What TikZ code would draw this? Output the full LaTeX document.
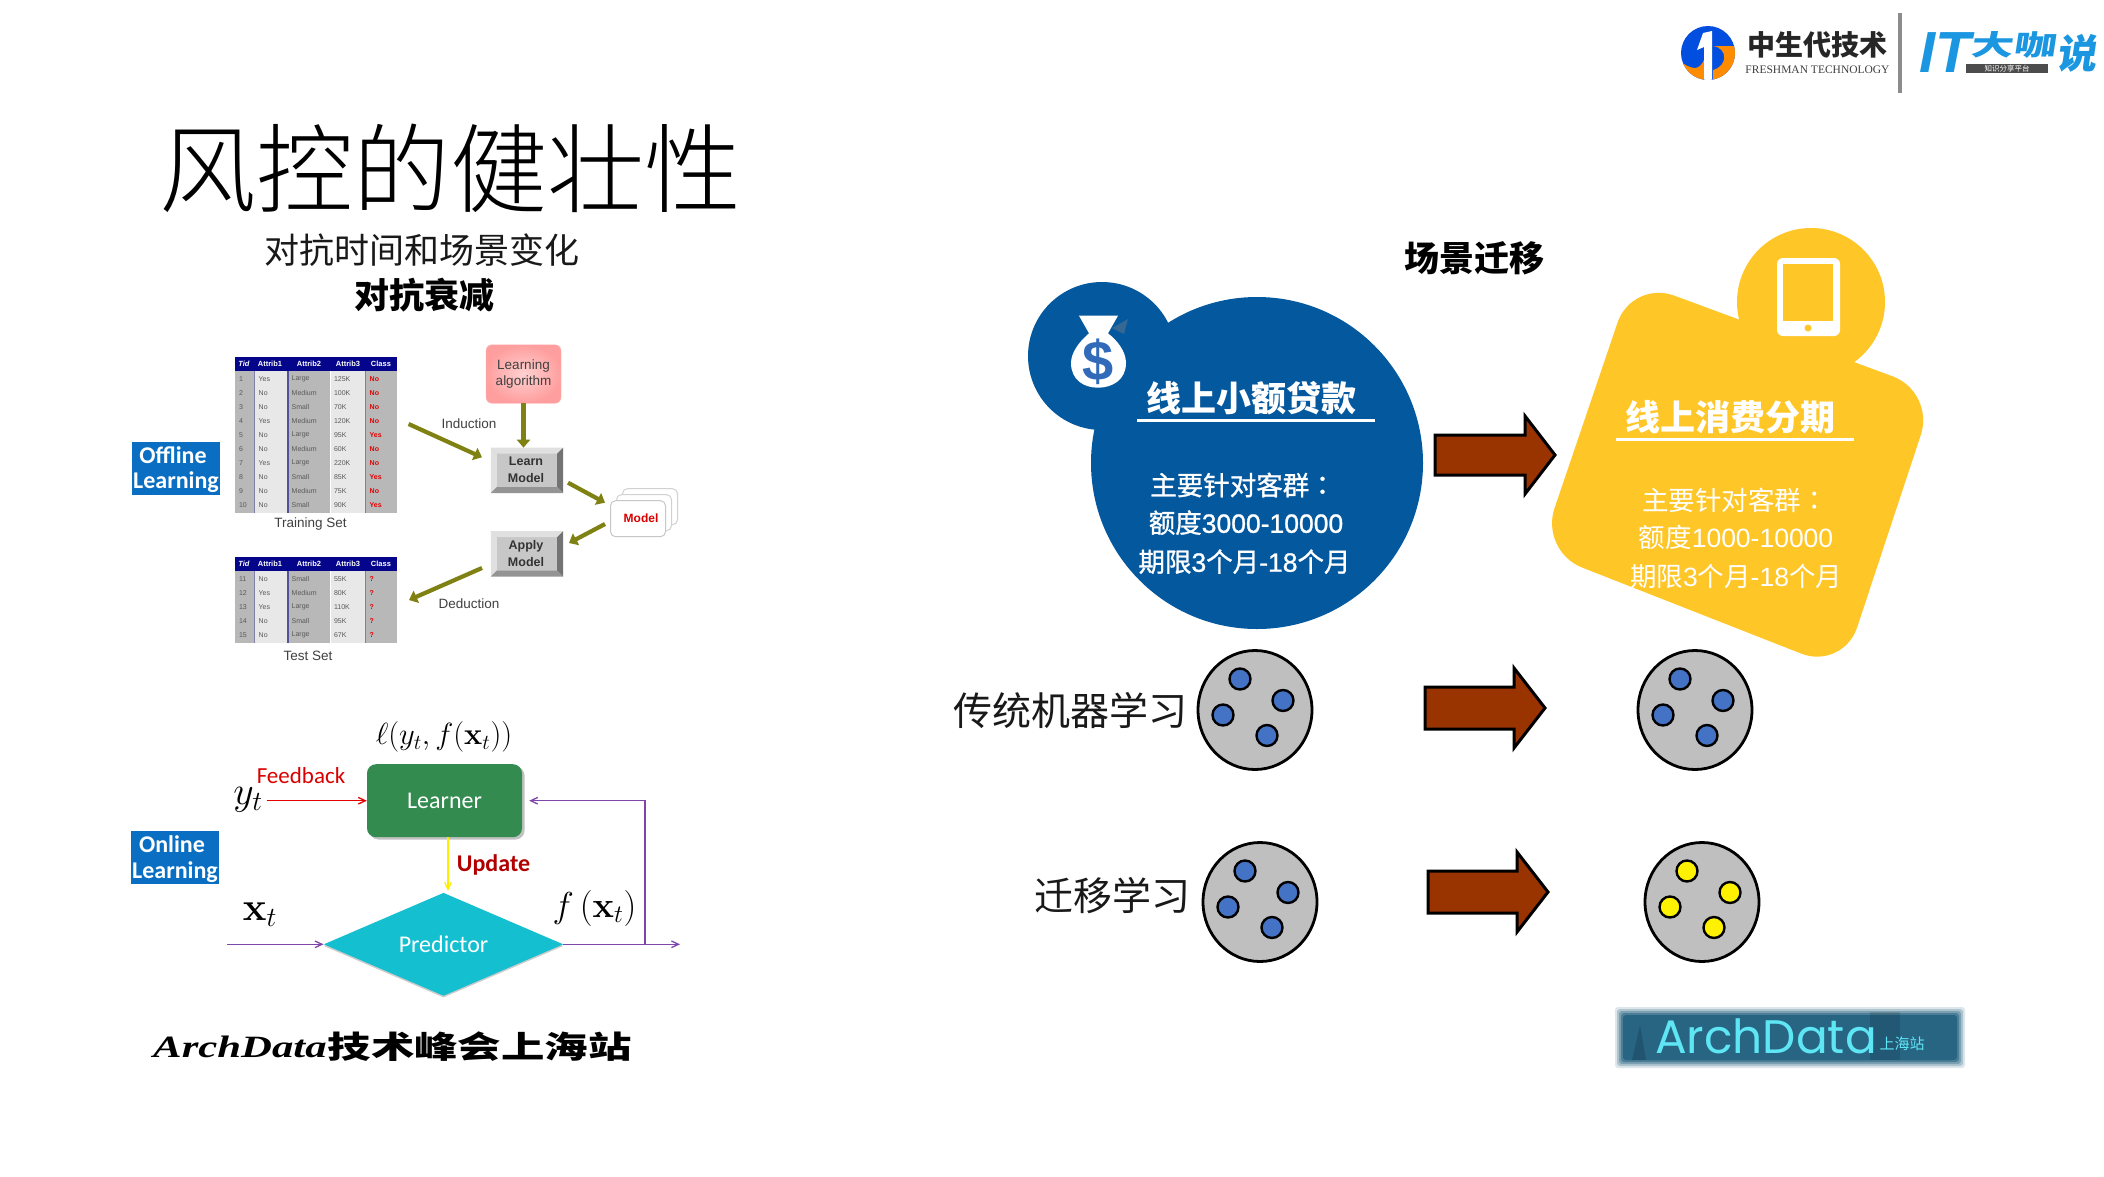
\documentclass[tikz,border=0pt]{standalone}
\usepackage[no-math]{fontspec}
\usepackage{graphicx}
\usetikzlibrary{arrows.meta,shapes.geometric,calc}
\setmainfont{Liberation Sans}
\newfontfamily\cjk{Noto Sans CJK SC}
\newfontfamily\cjkl{Noto Sans CJK SC Light}
\newfontfamily\cjktc{Noto Sans CJK TC}
\newfontfamily\cjkf{Noto Sans CJK SC}[FakeBold=1]
\newfontfamily\cjktf{Noto Sans CJK TC}[FakeBold=1]
\newfontfamily\latf{Liberation Sans}[FakeBold=1]
\newfontfamily\calb{Carlito}
\newfontfamily\rmn{Liberation Serif}
\newfontfamily\tec{Poppins}
\newcommand\sz[1]{\fontsize{#1}{#1}\selectfont}
\definecolor{bluebg}{HTML}{04589E}
\definecolor{yelbg}{HTML}{FFC627}
\definecolor{brownarr}{HTML}{993300}
\definecolor{oliv}{HTML}{7F8212}
\definecolor{offblue}{HTML}{0A6FC2}
\definecolor{purp}{HTML}{7030A0}
\definecolor{itblue}{HTML}{1B96E0}
\definecolor{dotblue}{HTML}{4472C4}
\definecolor{HeadNavy}{HTML}{05058C}
\definecolor{learnerc}{HTML}{338B4F}
\definecolor{predc}{HTML}{14BFD0}
\definecolor{bannerc}{HTML}{1E5F7E}
\definecolor{bannert}{HTML}{5FE6F5}
\tikzset{
 txt/.style={inner sep=0,outer sep=0},
 olivearr/.style={draw=oliv,line width=4.2pt,-{Triangle[width=13pt,length=8pt]}},
 thinarr/.style={line width=1.3pt,-{Straight Barb[length=7pt,width=11pt,angle'=50]}},
 bigarrow/.style={draw=black,fill=brownarr,line width=3pt,miter limit=8},
 bevel/.style={fill=black!22,minimum width=72pt,minimum height=45pt,inner sep=0},
 headc/.style={txt,text=white,font=\sz{7.5}\bfseries},
 cellc/.style={txt,text=black!65,font=\sz{7}},
 tag/.style={fill=offblue,minimum width=88pt,minimum height=53pt,inner sep=0},
 tagt/.style={txt,text=white,font=\calb\sz{24}\bfseries},
 cardtxt/.style={txt,text=white,font=\sz{26.5}},
 ball/.style={ellipse,draw=black,line width=2.8pt,fill=black!25,minimum width=114pt,minimum height=119pt,inner sep=0},
 grain/.style={circle,draw=black,line width=2.4pt,minimum size=21pt,inner sep=0},
 stackc/.style={draw=black!18,fill=white,rounded corners=5pt,line width=1pt,minimum width=55pt,minimum height=36pt},
}
\newcommand\bevelbox[1]{%
 \fill[black!12] (#1.north west)--(#1.north east)--($(#1.north east)+(-6,6)$)--($(#1.north west)+(6,6)$)--cycle;
 \fill[black!12] (#1.north west)--(#1.south west)--($(#1.south west)+(6,-6)$)--($(#1.north west)+(6,6)$)--cycle;
 \fill[black!55] (#1.north east)--(#1.south east)--($(#1.south east)+(-6,-6)$)--($(#1.north east)+(-6,6)$)--cycle;
 \fill[black!42] (#1.south west)--(#1.south east)--($(#1.south east)+(-6,-6)$)--($(#1.south west)+(6,-6)$)--cycle;
}
\newcommand\datatable[4]{% prefix, top y, bottom y, rows
 \fill[black!28] (235,#2) rectangle (397,#3);
 \fill[black!9] (255,#2) rectangle (287,#3);
 \fill[black!9] (331,#2) rectangle (365,#3);
 \fill[blue!50!black,opacity=.55] (287,#2) rectangle (289,#3);
 \fill[blue!50!black,opacity=.3] (254,#2) rectangle (255,#3);
 \fill[blue!50!black,opacity=.3] (365,#2) rectangle (366,#3);
 \fill[white] (329.5,#2) rectangle (331,#3);
 \fill[HeadNavy] (235,#2) rectangle (397,#2+14);
 \node[headc,font=\sz{7.5}\bfseries\itshape] (#1-h1) at (244,#2+7) {Tid};
 \node[headc] (#1-h2) at (270,#2+7) {Attrib1};
 \node[headc] (#1-h3) at (309,#2+7) {Attrib2};
 \node[headc] (#1-h4) at (348,#2+7) {Attrib3};
 \node[headc] (#1-h5) at (381,#2+7) {Class};
 \foreach \t/\a/\b/\c/\d [count=\r] in {#4}{
  \node[cellc,anchor=west] (#1-\r-t) at (239,#2+7.6+\r*14.03) {\t};
  \node[cellc,anchor=west] (#1-\r-a) at (258.7,#2+7.6+\r*14.03) {\a};
  \node[cellc,anchor=west] (#1-\r-b) at (291.7,#2+7.6+\r*14.03) {\b};
  \node[cellc,anchor=west] (#1-\r-c) at (334,#2+7.6+\r*14.03) {\c};
  \node[cellc,anchor=west,text=red!90!black,font=\sz{7}\bfseries] (#1-\r-d) at (369.7,#2+7.6+\r*14.03) {\d};
 }
}
\newcommand\grains[4]{% prefix, cx, cy, colour
 \node[grain,fill=#4] (#1a) at (#2-15,#3-31) {};
 \node[grain,fill=#4] (#1b) at (#2+28,#3-9.5) {};
 \node[grain,fill=#4] (#1c) at (#2-32,#3+5) {};
 \node[grain,fill=#4] (#1d) at (#2+12,#3+25.5) {};
}
\begin{document}
\begin{tikzpicture}[x=1pt,y=-1pt]
\useasboundingbox (0,0) rectangle (2104,1176);
\fill[white] (0,0) rectangle (2104,1176);
% ---- logo
\fill[HeadNavy!40!blue!70!cyan] (1708,53) circle (27);
\begin{scope}
 \clip (1708,53) circle (27);
 \fill[orange!90!yellow] (1681,62) .. controls (1695,72) and (1700,68) .. (1704,60) -- (1704,82) -- (1680,82) -- cycle;
 \fill[orange!90!yellow] (1713,46) .. controls (1728,48) and (1728,66) .. (1713,70) -- (1713,82) -- (1736,82) -- (1736,46) -- cycle;
 \fill[white] (1703,33) -- (1712,31) -- (1712,82) -- (1704,82) -- (1704,47) -- (1697,50) -- cycle;
\end{scope}
\node[txt,font=\cjk\sz{28}\bfseries,text=black!85] (lgname) at (1817.5,45) {中生代技术};
\node[txt,font=\rmn\sz{11.5},text=black!75] (lgeng) at (1817.5,70) {FRESHMAN TECHNOLOGY};
\draw[black!45,line width=3.5pt] (1900,13) -- (1900,93);
\node[txt,font=\sz{58}\bfseries\itshape,text=itblue] (lgit) at (1945,53) {IT};
\node[txt,font=\cjk\sz{36}\bfseries,text=itblue,xslant=0.15,transform shape] (lgda) at (2015,44.5) {\scalebox{1.18}[.78]{大咖}};
\node[txt,font=\cjk\sz{40}\bfseries,text=itblue,xslant=0.15,transform shape] (lgsh) at (2079,53) {说};
\node[fill=black!70,minimum width=82pt,minimum height=9pt,inner sep=0,text=white,font=\cjk\sz{7.5}] (lgtag) at (2007,68.5) {知识分享平台};
% ---- titles
\node[txt,font=\cjkl\sz{97},text=black] (title) at (450,168) {风控的健壮性};
\node[txt,font=\cjk\sz{35},text=black!90] (sub1) at (422,250) {对抗时间和场景变化};
\node[txt,font=\cjk\sz{35}\bfseries] (sub2) at (424,295) {对抗衰减};
% ---- offline
\node[tag] (offtag) at (176,468) {};
\node[tagt] (offt1) at (173,455) {Offline};
\node[tagt] (offt2) at (176,482) {Learning};
\datatable{tr}{357}{513}{1/Yes/Large/125K/No,2/No/Medium/100K/No,3/No/Small/70K/No,4/Yes/Medium/120K/No,5/No/Large/95K/Yes,6/No/Medium/60K/No,7/Yes/Large/220K/No,8/No/Small/85K/Yes,9/No/Medium/75K/No,10/No/Small/90K/Yes}
\datatable{te}{557}{643}{11/No/Small/55K/?,12/Yes/Medium/80K/?,13/Yes/Large/110K/?,14/No/Small/95K/?,15/No/Large/67K/?}
\node[txt,font=\sz{13.5},text=black!75] (trainlab) at (310.5,524) {Training Set};
\node[txt,font=\sz{13.5},text=black!75] (testlab) at (308,656) {Test Set};
\node[draw=red!30,inner color=red!18,outer color=red!38,rounded corners=6pt,minimum width=75pt,minimum height=58.5pt,inner sep=0,align=center,font=\sz{13.5},text=black!75] (alg) at (523.5,374) {Learning\\[3pt]algorithm};
\node[bevel] (learn) at (527,470.4) {};
\bevelbox{learn}
\node[txt,font=\sz{12.5}\bfseries,text=black!80,align=center] (learnt) at (526,470) {Learn\\[4.5pt]Model};
\node[bevel] (apply) at (527,553.8) {};
\bevelbox{apply}
\node[txt,font=\sz{12.5}\bfseries,text=black!80,align=center] (applyt) at (526,553.5) {Apply\\[4.5pt]Model};
\node[stackc] (m3) at (650,506.7) {};
\node[stackc] (m2) at (644,512.7) {};
\node[stackc,draw=black!22,font=\sz{12}\bfseries,text=red!85!black] (model) at (638,518.7) {\hspace*{6pt}Model};
\coordinate (i1) at (408.6,424);
\coordinate (i2) at (482,457.3);
\draw[olivearr] (i1) -- (i2);
\draw[olivearr] (alg.south) -- (learn.north -| alg.south);
\coordinate (m1a) at (568,482.7);
\coordinate (m1b) at (605,502.7);
\draw[olivearr] (m1a) -- (m1b);
\coordinate (m2a) at (605,524);
\coordinate (m2b) at (569,543);
\draw[olivearr] (m2a) -- (m2b);
\coordinate (d1) at (482,568);
\coordinate (d2) at (409,600);
\draw[olivearr] (d1) -- (d2);
\node[txt,font=\sz{13.5},text=black!75] (indlab) at (469,423.3) {Induction};
\node[txt,font=\sz{13.5},text=black!75] (dedlab) at (469,603.3) {Deduction};
% ---- online
\node[tag] (ontag) at (175,857) {};
\node[tagt] (ont1) at (172,844.3) {Online};
\node[tagt] (ont2) at (175,871.7) {Learning};
\node[fill=black!40,rounded corners=9pt,minimum width=155pt,minimum height=73pt,opacity=.6] (lshadow) at (447,803) {};
\node[fill=learnerc,rounded corners=9pt,minimum width=155pt,minimum height=73pt,inner sep=0,text=white,font=\calb\sz{24}] (learner) at (444.5,800.7) {Learner};
\node[diamond,aspect=2.3,fill=black!20,minimum width=239.5pt,minimum height=103pt,inner sep=0] (pshadow) at (443.5,946) {};
\node[diamond,aspect=2.3,fill=predc,minimum width=239.5pt,minimum height=103pt,inner sep=0,text=white,font=\calb\sz{24}] (pred) at (443.5,944.3) {Predictor};
\node[txt,font=\sz{24}] (loss) at (444,737) {\scalebox{1.23}{$\ell(y_t,f(\mathbf{x}_t))$}};
\node[txt,font=\calb\sz{23},text=red!85!black] (fb) at (301,775.7) {Feedback};
\node[txt,anchor=east,font=\sz{24}] (yt) at (263,800) {\scalebox{1.6}{$y_t$}};
\node[txt,font=\calb\sz{24}\bfseries,text=red!70!black] (upd) at (493.5,865) {Update};
\node[txt,font=\sz{24}] (xt) at (260,915) {\scalebox{1.6}{$\mathbf{x}_t$}};
\node[txt,font=\sz{24}] (fx) at (594.5,908) {\scalebox{1.45}{$f\,(\mathbf{x}_t)$}};
\coordinate (fbin) at (266.5,800.7);
\draw[thinarr,red!90!black] (fbin) -- (learner.west);
\draw[thinarr,yellow!95!orange] ([xshift=3.5pt]learner.south) -- ++(0,53.5);
\coordinate (xin) at (227,944.3);
\coordinate (yout) at (680,944.3);
\coordinate (junc) at (645,944.3);
\draw[thinarr,purp!90] (xin) -- (pred.west);
\draw[thinarr,purp!90] (pred.east) -- (yout);
\draw[purp!90,line width=1.3pt,-{Straight Barb[length=7pt,width=11pt,angle'=50]},shorten >=7pt] (junc) |- (learner.east);
\node[txt,font=\rmn\sz{31}\bfseries\itshape] (arch1) at (240,1047) {\scalebox{1.38}[1]{ArchData}};
\node[txt,font=\cjk\sz{31}\bfseries] (arch2) at (479.5,1047) {\scalebox{1.4}[1]{技术峰会上海站}};
% ---- right: blue card
\node[txt,font=\cjk\sz{35}\bfseries] (scene) at (1474,258.3) {场景迁移};
\node[circle,fill=bluebg,minimum size=148pt,inner sep=0] (bsmall) at (1102,356) {};
\node[circle,fill=bluebg,minimum size=332pt,inner sep=0] (bbig) at (1257,463) {};
\fill[white] (1079,315.7) -- (1118,315.7) -- (1108,333.3) .. controls (1118,341) and (1126,352) .. (1126,363) .. controls (1126,380) and (1112,387.7) .. (1098,387.7) .. controls (1084,387.7) and (1071,380) .. (1071,363) .. controls (1071,352) and (1080,341) .. (1089,333.3) -- cycle;
\fill[bluebg!60!gray] (1112,328) -- (1128,319) -- (1124,334) -- cycle;
\node[txt,font=\sz{56}\bfseries,text=dotblue!70!bluebg] (dollar) at (1098,362) {\$};
\node[txt,font=\cjk\sz{35}\bfseries,text=white] (bhead) at (1251.5,398.3) {线上小额贷款};
\coordinate (bul1) at (1137,420); \coordinate (bul2) at (1375,420);
\draw[white,line width=3pt] (bul1) -- (bul2);
\node[cardtxt] (b1) at (1243,485) {{\cjkf 主要针对客群}{\cjktf ：}};
\node[cardtxt] (b2) at (1246,522.7) {{\cjkf 额度}{\latf 3000-10000}};
\node[cardtxt] (b3) at (1244.5,561.7) {{\cjkf 期限}{\latf 3}{\cjkf 个月}{\latf -18}{\cjkf 个月}};
% ---- right: yellow card
\fill[yelbg,rounded corners=45pt] (1632,280) -- (1935,392) -- (1843,670) -- (1540,551) -- cycle;
\node[circle,fill=yelbg,minimum size=148pt,inner sep=0] (ysmall) at (1811,302) {};
\node[fill=white,rounded corners=6pt,minimum width=63pt,minimum height=78pt,inner sep=0] (tabo) at (1808.5,297) {};
\node[fill=yelbg,minimum width=50pt,minimum height=57pt,inner sep=0] (tabi) at (1808,292.5) {};
\node[circle,fill=yelbg,minimum size=7pt,inner sep=0] (tabd) at (1808,328) {};
\node[txt,font=\cjk\sz{35}\bfseries,text=white] (yhead) at (1730,417) {线上消费分期};
\coordinate (yul1) at (1616,439); \coordinate (yul2) at (1854,439);
\draw[white,line width=3pt] (yul1) -- (yul2);
\node[cardtxt] (y1) at (1735,500) {{\cjk 主要针对客群}{\cjktc ：}};
\node[cardtxt] (y2) at (1736,537) {{\cjk 额度}1000-10000};
\node[cardtxt] (y3) at (1736,576) {{\cjk 期限}3{\cjk 个月}-18{\cjk 个月}};
% ---- brown arrows
\draw[bigarrow] (1435,435) -- (1525,435) -- (1525,416) -- (1555,455) -- (1525,494) -- (1525,475) -- (1435,475) -- cycle;
\draw[bigarrow] (1425,687) -- (1514,687) -- (1514,668) -- (1545,708) -- (1514,748) -- (1514,729) -- (1425,729) -- cycle;
\draw[bigarrow] (1428,871) -- (1517,871) -- (1517,852) -- (1548,892) -- (1517,932) -- (1517,913) -- (1428,913) -- cycle;
% ---- balls
\node[txt,font=\cjk\sz{39},text=black!90] (trad) at (1070.5,710) {传统机器学习};
\node[ball] (ball1) at (1255,710) {};
\grains{g1}{1255}{710}{dotblue}
\node[ball] (ball2) at (1695,710) {};
\grains{g2}{1695}{710}{dotblue}
\node[txt,font=\cjk\sz{39},text=black!90] (trans) at (1112,896) {迁移学习};
\node[ball] (ball3) at (1260,902) {};
\grains{g3}{1260}{902}{dotblue}
\node[ball] (ball4) at (1702,902) {};
\grains{g4}{1702}{902}{yellow}
% ---- banner
\foreach \k/\o in {0/.15,2/.25,4/.35,6/.5,8/.8}{
 \fill[bannerc,opacity=\o,rounded corners=3pt] (1615+\k,1007+\k) rectangle (1965-\k,1068-\k);
}
\fill[black,opacity=.15] (1632,1060) -- (1640,1025) -- (1646,1060) -- cycle;
\fill[black,opacity=.12] (1870,1012) rectangle (1900,1060);
\node[txt,font=\tec\sz{47},text=bannert] (bant) at (1766,1036) {ArchData};
\node[txt,font=\cjk\sz{15},text=bannert] (bant2) at (1902,1044) {上海站};
\end{tikzpicture}
\end{document}
